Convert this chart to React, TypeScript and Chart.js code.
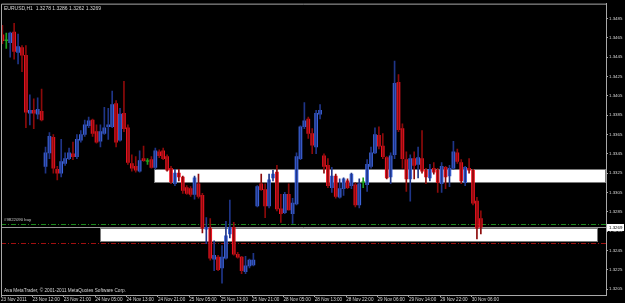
import { useEffect, useRef } from 'react';
import { Chart, registerables } from 'chart.js';

Chart.register(...registerables);

// ---- data (EURUSD H1) ----
const OPEN = [
  1.3468, 1.3462, 1.3460, 1.3471, 1.3450, 1.3455, 1.3447, 1.3387, 1.3390, 1.3386,
  1.3389, 1.3332, 1.3346, 1.3362, 1.3329, 1.3325, 1.3335, 1.3340, 1.3345, 1.3342,
  1.3359, 1.3365, 1.3374, 1.3380, 1.3368, 1.3358, 1.3366, 1.3373, 1.3373, 1.3397,
  1.3359, 1.3387, 1.3372, 1.3335, 1.3332, 1.3327, 1.3340, 1.3337, 1.3339, 1.3331,
  1.3347, 1.3348, 1.3342, 1.3330, 1.3314, 1.3325, 1.3321, 1.3310, 1.3309, 1.3303,
  1.3314, 1.3302, 1.3267, 1.3268, 1.3236, 1.3238, 1.3227, 1.3237, 1.3262, 1.3269,
  1.3241, 1.3238, 1.3223, 1.3229, 1.3230, 1.3291, 1.3314, 1.3308, 1.3291, 1.3320,
  1.3326, 1.3288, 1.3284, 1.3303, 1.3283, 1.3293, 1.3340, 1.3373, 1.3381, 1.3366,
  1.3352, 1.3386, 1.3343, 1.3333, 1.3310, 1.3322, 1.3300, 1.3309, 1.3317, 1.3312,
  1.3313, 1.3292, 1.3315, 1.3313, 1.3332, 1.3346, 1.3364, 1.3353, 1.3341, 1.3321,
  1.3344, 1.3419, 1.3371, 1.3339, 1.3319, 1.3340, 1.3334, 1.3340, 1.3328, 1.3320,
  1.3330, 1.3328, 1.3314, 1.3331, 1.3322, 1.3330, 1.3346, 1.3336, 1.3315, 1.3330,
  1.3328, 1.3296, 1.3278,
];
const HIGH = [
  1.3478, 1.3470, 1.3471, 1.3480, 1.3469, 1.3457, 1.3457, 1.3406, 1.3402, 1.3403,
  1.3412, 1.3352, 1.3367, 1.3365, 1.3332, 1.3360, 1.3346, 1.3351, 1.3357, 1.3365,
  1.3369, 1.3380, 1.3383, 1.3381, 1.3375, 1.3375, 1.3393, 1.3392, 1.3410, 1.3400,
  1.3392, 1.3420, 1.3375, 1.3344, 1.3342, 1.3348, 1.3353, 1.3340, 1.3342, 1.3351,
  1.3349, 1.3351, 1.3344, 1.3332, 1.3329, 1.3329, 1.3322, 1.3312, 1.3311, 1.3322,
  1.3324, 1.3304, 1.3279, 1.3278, 1.3255, 1.3240, 1.3250, 1.3275, 1.3297, 1.3274,
  1.3243, 1.3239, 1.3239, 1.3236, 1.3242, 1.3312, 1.3324, 1.3314, 1.3324, 1.3328,
  1.3333, 1.3303, 1.3305, 1.3314, 1.3299, 1.3346, 1.3374, 1.3398, 1.3383, 1.3371,
  1.3390, 1.3396, 1.3345, 1.3340, 1.3331, 1.3324, 1.3319, 1.3320, 1.3319, 1.3325,
  1.3315, 1.3319, 1.3320, 1.3339, 1.3352, 1.3372, 1.3373, 1.3366, 1.3342, 1.3346,
  1.3441, 1.3427, 1.3376, 1.3347, 1.3344, 1.3347, 1.3352, 1.3369, 1.3330, 1.3334,
  1.3336, 1.3330, 1.3336, 1.3332, 1.3333, 1.3358, 1.3350, 1.3339, 1.3332, 1.3340,
  1.3329, 1.3300, 1.3286,
];
const LOW = [
  1.3459, 1.3454, 1.3445, 1.3443, 1.3438, 1.3430, 1.3372, 1.3375, 1.3371, 1.3381,
  1.3379, 1.3325, 1.3340, 1.3325, 1.3318, 1.3321, 1.3333, 1.3339, 1.3339, 1.3340,
  1.3357, 1.3363, 1.3372, 1.3363, 1.3356, 1.3352, 1.3365, 1.3360, 1.3372, 1.3352,
  1.3358, 1.3368, 1.3334, 1.3327, 1.3326, 1.3326, 1.3337, 1.3334, 1.3330, 1.3329,
  1.3341, 1.3339, 1.3327, 1.3314, 1.3312, 1.3317, 1.3304, 1.3303, 1.3301, 1.3298,
  1.3299, 1.3263, 1.3252, 1.3235, 1.3224, 1.3224, 1.3211, 1.3236, 1.3258, 1.3240,
  1.3237, 1.3221, 1.3221, 1.3227, 1.3229, 1.3290, 1.3307, 1.3279, 1.3289, 1.3317,
  1.3286, 1.3274, 1.3283, 1.3287, 1.3273, 1.3292, 1.3339, 1.3371, 1.3361, 1.3345,
  1.3345, 1.3381, 1.3325, 1.3310, 1.3305, 1.3299, 1.3299, 1.3302, 1.3309, 1.3309,
  1.3290, 1.3289, 1.3310, 1.3306, 1.3330, 1.3345, 1.3350, 1.3340, 1.3319, 1.3314,
  1.3340, 1.3368, 1.3330, 1.3306, 1.3296, 1.3319, 1.3320, 1.3325, 1.3314, 1.3317,
  1.3324, 1.3305, 1.3305, 1.3309, 1.3311, 1.3329, 1.3335, 1.3314, 1.3312, 1.3325,
  1.3292, 1.3257, 1.3262,
];
const CLOSE = [
  1.3462, 1.3462, 1.3470, 1.3451, 1.3456, 1.3447, 1.3388, 1.3390, 1.3387, 1.3391,
  1.3380, 1.3346, 1.3363, 1.3330, 1.3325, 1.3337, 1.3340, 1.3346, 1.3342, 1.3360,
  1.3365, 1.3375, 1.3379, 1.3366, 1.3357, 1.3368, 1.3372, 1.3375, 1.3396, 1.3357,
  1.3386, 1.3371, 1.3336, 1.3330, 1.3328, 1.3338, 1.3338, 1.3337, 1.3331, 1.3348,
  1.3343, 1.3340, 1.3328, 1.3316, 1.3325, 1.3321, 1.3307, 1.3304, 1.3303, 1.3320,
  1.3301, 1.3268, 1.3269, 1.3237, 1.3240, 1.3225, 1.3238, 1.3260, 1.3269, 1.3241,
  1.3238, 1.3224, 1.3229, 1.3235, 1.3235, 1.3311, 1.3308, 1.3291, 1.3318, 1.3324,
  1.3288, 1.3283, 1.3303, 1.3287, 1.3294, 1.3342, 1.3373, 1.3379, 1.3366, 1.3354,
  1.3387, 1.3390, 1.3332, 1.3312, 1.3322, 1.3301, 1.3309, 1.3319, 1.3310, 1.3324,
  1.3292, 1.3314, 1.3315, 1.3334, 1.3346, 1.3365, 1.3353, 1.3342, 1.3320, 1.3343,
  1.3418, 1.3370, 1.3340, 1.3319, 1.3340, 1.3333, 1.3341, 1.3327, 1.3321, 1.3329,
  1.3326, 1.3315, 1.3332, 1.3321, 1.3330, 1.3347, 1.3337, 1.3317, 1.3331, 1.3328,
  1.3294, 1.3268, 1.3269,
];

const X_TICK_BARS = [0, 8, 16, 24, 32, 40, 48, 56, 64, 72, 80, 88, 96, 104, 112, 120];
const X_LABELS = [
  '23 Nov 2011', '23 Nov 12:00', '23 Nov 21:00', '24 Nov 05:00', '24 Nov 13:00', '24 Nov 21:00',
  '25 Nov 05:00', '25 Nov 13:00', '25 Nov 21:00', '28 Nov 05:00', '28 Nov 13:00', '28 Nov 22:00',
  '29 Nov 06:00', '29 Nov 14:00', '29 Nov 22:00', '30 Nov 06:00',
];
const Y_TICKS = [
  1.3205, 1.3225, 1.3245, 1.3265, 1.3285, 1.3305, 1.3325, 1.3345,
  1.3365, 1.3385, 1.3405, 1.3425, 1.3445, 1.3465, 1.3485,
];

// rectangles (bar index range, price range)
const ZONE_FROM = [38.7, 24.8];
const ZONE_TO = [200, 151.9];
const ZONE_TOP = [1.3329, 1.3268];
const ZONE_BOTTOM = [1.3315, 1.3254];

const BUY_LEVEL = 1.3272;
const STOP_LEVEL = 1.32525;
const ORDER_LABEL = '#9822090 buy';
const TITLE = 'EURUSD,H1  1.3278 1.3286 1.3262 1.3269';
const COPYRIGHT = 'Ava MetaTrader, \u00A9 2001-2011 MetaQuotes Software Corp.';

// ---- styles ----
const BULL = '#4169e1';
const BEAR = '#f01424';
const BULL_WICK = '#1f3588';
const BEAR_WICK = '#8c0a0a';
const DOJI = '#1ea01e';
const AXIS = '#a8a8a8';
const TXT = '#d8d8d8';
const FONT = '"Liberation Sans", Arial, sans-serif';
const X_MIN = -0.35;
const X_MAX = -0.35 + 605 / 3.922;
const Y_MAX = 1.35004;
const Y_MIN = 1.35004 - 294 / 9750;
const TICK_SHIFT = -0.35;

const idx = OPEN.map((_, i) => i);
const bodyColor = (i: number) => (OPEN[i] === CLOSE[i] ? DOJI : CLOSE[i] > OPEN[i] ? BULL : BEAR);
const wickColor = (i: number) => (OPEN[i] === CLOSE[i] ? DOJI : CLOSE[i] > OPEN[i] ? BULL_WICK : BEAR_WICK);

const overlay = {
  id: 'mtOverlay',
  beforeDatasetsDraw(chart: any) {
    const { ctx, chartArea: a, scales } = chart;
    const x = scales.x;
    const y = scales.y;
    ctx.save();
    ctx.beginPath();
    ctx.rect(a.left, a.top, a.right - a.left, a.bottom - a.top);
    ctx.clip();
    const hline = (price: number, color: string, dash: number[]) => {
      const py = Math.round(y.getPixelForValue(price)) + 0.5;
      ctx.strokeStyle = color;
      ctx.lineWidth = 1;
      ctx.setLineDash(dash);
      ctx.beginPath();
      ctx.moveTo(a.left, py);
      ctx.lineTo(a.right, py);
      ctx.stroke();
    };
    hline(BUY_LEVEL, '#1c8a1c', [5, 2, 1, 2]);
    hline(STOP_LEVEL, '#a01010', [5, 2, 1, 2]);
    hline(CLOSE[CLOSE.length - 1], '#9a9a9a', []);
    ctx.setLineDash([]);
    for (let k = 0; k < ZONE_FROM.length; k++) {
      const x1 = Math.round(x.getPixelForValue(ZONE_FROM[k]));
      const x2 = Math.min(Math.round(x.getPixelForValue(ZONE_TO[k])), a.right);
      const y1 = Math.round(y.getPixelForValue(ZONE_TOP[k]));
      const y2 = Math.round(y.getPixelForValue(ZONE_BOTTOM[k]));
      ctx.fillStyle = '#ffffff';
      ctx.fillRect(x1, y1, x2 - x1, y2 - y1);
      ctx.strokeStyle = '#7a7a7a';
      ctx.strokeRect(x1 + 0.5, y1 + 0.5, x2 - x1 - 1, y2 - y1 - 1);
    }
    ctx.restore();
  },
  afterDraw(chart: any) {
    const { ctx, chartArea: a, scales } = chart;
    const y = scales.y;
    ctx.save();
    ctx.strokeStyle = AXIS;
    ctx.lineWidth = 1;
    ctx.beginPath();
    ctx.moveTo(a.left + 0.5, a.bottom);
    ctx.lineTo(a.left + 0.5, a.top + 0.5);
    ctx.lineTo(a.right, a.top + 0.5);
    ctx.stroke();
    ctx.fillStyle = TXT;
    ctx.textBaseline = 'middle';
    ctx.textAlign = 'left';
    ctx.font = `5px ${FONT}`;
    ctx.fillText(TITLE, a.left + 3, a.top + 5);
    ctx.font = `4.7px ${FONT}`;
    ctx.fillText(COPYRIGHT, a.left + 3, a.bottom - 4);
    ctx.fillStyle = '#c8c8c8';
    ctx.font = `4.3px ${FONT}`;
    ctx.fillText(ORDER_LABEL, a.left + 3, y.getPixelForValue(BUY_LEVEL) - 5);
    const last = CLOSE[CLOSE.length - 1];
    const py = Math.round(y.getPixelForValue(last));
    ctx.fillStyle = '#ffffff';
    ctx.fillRect(a.right + 1, py - 3, 17, 7);
    ctx.fillStyle = '#000000';
    ctx.font = `4.4px ${FONT}`;
    ctx.fillText(last.toFixed(4), a.right + 3, py + 0.5);
    ctx.restore();
  },
};

export default function App() {
  const ref = useRef<HTMLCanvasElement>(null);
  useEffect(() => {
    document.body.style.margin = '0';
    document.body.style.background = '#000';
    const chart = new Chart(ref.current as HTMLCanvasElement, {
      type: 'bar',
      data: {
        datasets: [
          {
            label: 'wick',
            data: idx.map((i) => ({ x: i, y: [LOW[i], HIGH[i]] })) as any,
            backgroundColor: idx.map(wickColor),
            barThickness: 1,
            grouped: false,
            borderWidth: 0,
          },
          {
            label: 'body',
            data: idx.map((i) => ({ x: i, y: [OPEN[i], CLOSE[i]] })) as any,
            backgroundColor: idx.map(bodyColor),
            barThickness: 3,
            grouped: false,
            borderWidth: 0,
            minBarLength: 1,
          },
        ],
      },
      options: {
        responsive: false,
        animation: false,
        devicePixelRatio: 1,
        layout: { padding: { left: 1, top: 1, right: 0, bottom: 0 } },
        plugins: { legend: { display: false }, tooltip: { enabled: false }, title: { display: false } },
        scales: {
          x: {
            type: 'linear',
            position: 'bottom',
            offset: false,
            min: X_MIN,
            max: X_MAX,
            afterBuildTicks: (s: any) => {
              s.ticks = X_TICK_BARS.map((b) => ({ value: b + TICK_SHIFT }));
            },
            afterFit: (s: any) => {
              s.height = 8;
            },
            grid: { display: true, offset: false, drawOnChartArea: false, drawTicks: true, tickLength: 2, color: AXIS },
            border: { display: true, color: AXIS },
            ticks: {
              autoSkip: false,
              maxRotation: 0,
              minRotation: 0,
              align: 'start',
              padding: 0,
              color: TXT,
              font: { family: FONT, size: 4.6 },
              callback: (_v: any, i: number) => X_LABELS[i],
            },
          },
          y: {
            type: 'linear',
            position: 'right',
            min: Y_MIN,
            max: Y_MAX,
            afterBuildTicks: (s: any) => {
              s.ticks = Y_TICKS.map((v) => ({ value: v }));
            },
            afterFit: (s: any) => {
              s.width = 19;
            },
            grid: { display: true, drawOnChartArea: false, drawTicks: true, tickLength: 2, color: AXIS },
            border: { display: true, color: AXIS },
            ticks: {
              padding: 1,
              color: TXT,
              font: { family: FONT, size: 4.4 },
              callback: (v: any) => Number(v).toFixed(4),
            },
          },
        },
      } as any,
      plugins: [overlay],
    });
    return () => chart.destroy();
  }, []);
  return (
    <canvas
      ref={ref}
      width={625}
      height={303}
      style={{ display: 'block', width: 625, height: 303, background: '#000' }}
    />
  );
}
